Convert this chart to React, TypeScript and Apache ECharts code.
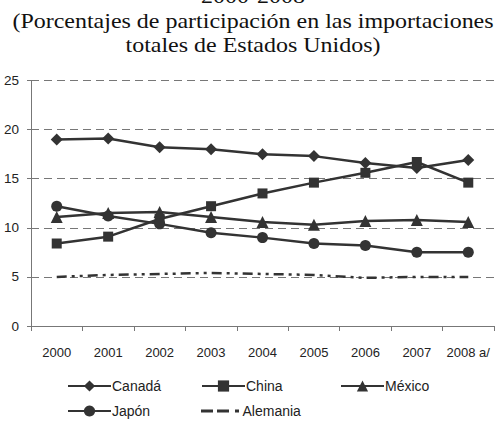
import React, { useEffect, useRef } from "react";
import * as echarts from "echarts";

const years = ["2000", "2001", "2002", "2003", "2004", "2005", "2006", "2007", "2008 a/"];
const canada = [19.0, 19.1, 18.2, 18.0, 17.5, 17.3, 16.6, 16.1, 16.9];
const china = [8.4, 9.1, 10.9, 12.2, 13.5, 14.6, 15.6, 16.7, 14.6];
const mexico = [11.1, 11.5, 11.6, 11.1, 10.6, 10.3, 10.7, 10.8, 10.6];
const japon = [12.2, 11.2, 10.4, 9.5, 9.0, 8.4, 8.2, 7.5, 7.5];
const alemania = [5.0, 5.2, 5.3, 5.4, 5.3, 5.2, 4.9, 5.0, 5.0];
const titleLines = ["2000-2008", "(Porcentajes de participación en las importaciones", "totales de Estados Unidos)"];

const INK = "#333";

export default function App() {
  const ref = useRef<HTMLDivElement>(null);
  useEffect(() => {
    if (!ref.current) return;
    const chart = echarts.init(ref.current, undefined, { renderer: "svg" });
    const lineSeries = (name: string, data: number[], symbol: string, size: number) => ({
      name,
      type: "line",
      data,
      symbol,
      symbolSize: size,
      lineStyle: { color: INK, width: 2.5 },
      itemStyle: { color: INK },
    });
    const legendItem = (name: string, left: number, top: number, icon?: string) => ({
      data: icon ? [{ name, icon }] : [name],
      left,
      top,
      itemWidth: 43,
      itemHeight: icon ? 3 : 14,
      itemGap: 0,
      textStyle: { fontFamily: "Liberation Sans", fontSize: 14, color: "#222", padding: [0, 0, 0, -4] },
      padding: 0,
    });
    chart.setOption({
      animation: false,
      graphic: titleLines.map((t, i) => ({
        type: "text",
        x: 253,
        y: -4.2 + i * 24.5,
        scaleX: 1.09,
        style: {
          text: t,
          fill: "#111",
          fontFamily: "Liberation Serif",
          fontSize: 22,
          textAlign: "center",
          textVerticalAlign: "middle",
        },
      })),
      grid: { left: 31, right: 8, top: 80.5, bottom: 95 },
      xAxis: {
        type: "category",
        data: years,
        boundaryGap: true,
        axisLine: { lineStyle: { color: "#777", width: 1 } },
        axisTick: { show: true, length: 5, lineStyle: { color: "#777" } },
        axisLabel: { interval: 0, color: "#222", fontFamily: "Liberation Sans", fontSize: 13, margin: 20 },
      },
      yAxis: {
        type: "value",
        min: 0,
        max: 25,
        interval: 5,
        axisLine: { show: true, lineStyle: { color: "#777", width: 1 } },
        axisTick: { show: true, length: 4, lineStyle: { color: "#777" } },
        axisLabel: { color: "#222", fontFamily: "Liberation Sans", fontSize: 13.5, margin: 12 },
        splitLine: { lineStyle: { color: "#777", type: [8, 5], width: 1 } },
      },
      legend: [
        legendItem("Canadá", 67, 379),
        legendItem("China", 201, 379),
        legendItem("México", 340, 379),
        legendItem("Japón", 67, 404),
        legendItem("Alemania", 201, 404, "path://M0,0h12v3h-12zM16,0h12v3h-12zM34,0h4v3h-4z"),
      ],
      series: [
        lineSeries("Canadá", canada, "diamond", 12),
        lineSeries("China", china, "rect", 10),
        lineSeries("México", mexico, "triangle", 12),
        lineSeries("Japón", japon, "circle", 11),
        {
          name: "Alemania",
          type: "line",
          data: alemania,
          symbol: "none",
          lineStyle: { color: INK, width: 2.5, type: [10, 5, 3, 5, 3, 5] },
          itemStyle: { color: INK },
        },
      ],
    });
    return () => chart.dispose();
  }, []);
  return <div ref={ref} style={{ position: "fixed", left: 0, top: 0, width: 502, height: 421, background: "#fff" }} />;
}
